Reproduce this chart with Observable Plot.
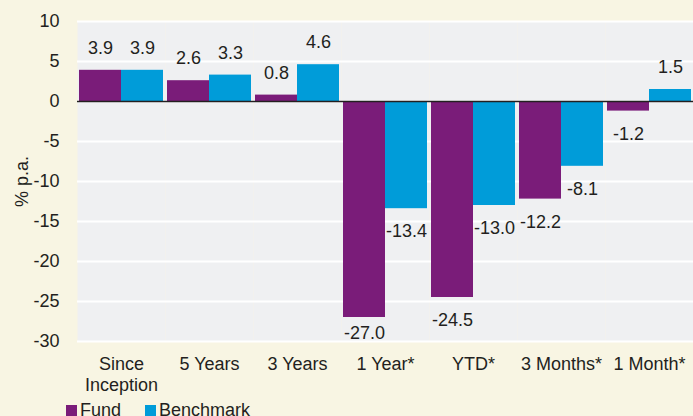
<!DOCTYPE html>
<html>
<head>
<meta charset="utf-8">
<script src="https://cdn.jsdelivr.net/npm/d3@7"></script>
<script src="https://cdn.jsdelivr.net/npm/@observablehq/plot@0.6"></script>
<style>
  html, body { margin: 0; padding: 0; background: #f8f5e3; }
  body { width: 693px; height: 416px; overflow: hidden; font-family: "Liberation Sans", Arial, Helvetica, sans-serif; color: #231f20; }
  #chart svg { display: block; }
  .legend { display: flex; align-items: center; padding-left: 66px; font-size: 18px; line-height: 18px; margin-top: 3px; }
  .legend .item { display: flex; align-items: center; margin-right: 24px; }
  .legend .sw { width: 11px; height: 11px; margin-right: 3px; display: inline-block; }
</style>
</head>
<body>
<div id="chart"></div>
<div class="legend" id="legend"></div>
<script>
const categories = ["Since Inception", "5 Years", "3 Years", "1 Year*", "YTD*", "3 Months*", "1 Month*"];
const fundValues = [3.9, 2.6, 0.8, -27.0, -24.5, -12.2, -1.2];
const benchmarkValues = [3.9, 3.3, 4.6, -13.4, -13.0, -8.1, 1.5];
const seriesNames = ["Fund", "Benchmark"];
const seriesColors = ["#7a1c79", "#009cd9"];
const yTicks = [10, 5, 0, -5, -10, -15, -20, -25, -30];

const data = [];
categories.forEach((c, i) => {
  data.push({category: c, series: "Fund", value: fundValues[i]});
  data.push({category: c, series: "Benchmark", value: benchmarkValues[i]});
});
const pos = data.filter(d => d.value >= 0);
const neg = data.filter(d => d.value < 0);

const chart = Plot.plot({
  width: 693,
  height: 398,
  marginLeft: 76,
  marginRight: 0,
  marginTop: 21,
  marginBottom: 57,
  style: {background: "transparent", fontFamily: "'Liberation Sans', Arial, Helvetica, sans-serif", fontSize: "18px", color: "#231f20"},
  fx: {domain: categories, padding: 0, label: null, axis: null},
  x: {domain: seriesNames, paddingInner: 0, paddingOuter: 0.025, axis: null},
  y: {domain: [-30, 10], axis: null},
  color: {domain: seriesNames, range: seriesColors},
  marks: [
    Plot.frame({fill: "#eff0f2"}),
    Plot.gridY(yTicks, {stroke: "white", strokeOpacity: 1, strokeWidth: 2}),
    Plot.barY(data, {fx: "category", x: "series", y: "value", fill: "series"}),
    Plot.ruleY([0], {stroke: "#231f20", strokeWidth: 1.5}),
    Plot.text(pos, {fx: "category", x: "series", y: "value", text: d => d.value.toFixed(1), dy: -22, fill: "#231f20", fontSize: 18}),
    Plot.text(neg, {fx: "category", x: "series", y: d => Math.max(d.value, -26.1), text: d => d.value.toFixed(1), dy: 23, fill: "#231f20", fontSize: 18}),
    Plot.axisY({ticks: yTicks, tickSize: 0, tickPadding: 18, tickFormat: d => String(d), label: "% p.a.", labelAnchor: "center", labelOffset: 62, labelArrow: "none", fontSize: 18}),
    Plot.axisFx({anchor: "bottom", tickSize: 0, tickPadding: 13, label: null, lineHeight: 1.2, fontSize: 18,
      tickFormat: d => d === "Since Inception" ? "Since\nInception" : d})
  ]
});
document.getElementById("chart").appendChild(chart);

const legend = document.getElementById("legend");
seriesNames.forEach((s, i) => {
  const item = document.createElement("span");
  item.className = "item";
  const sw = document.createElement("span");
  sw.className = "sw";
  sw.style.background = seriesColors[i];
  item.appendChild(sw);
  item.appendChild(document.createTextNode(s));
  legend.appendChild(item);
});
</script>
</body>
</html>
